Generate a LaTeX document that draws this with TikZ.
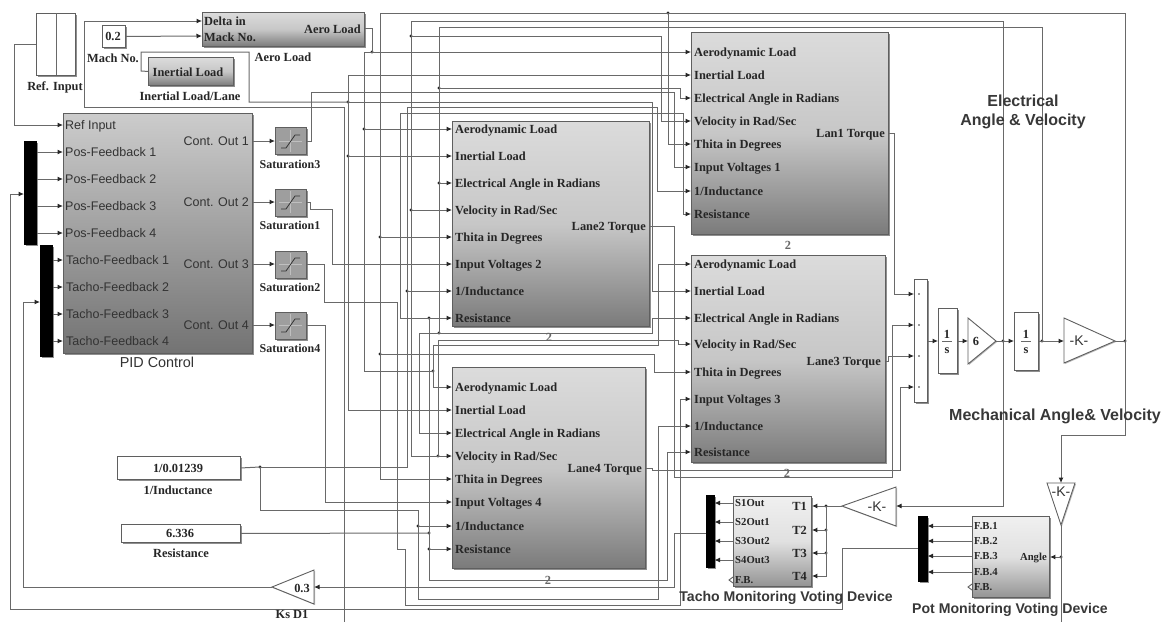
\documentclass[tikz,border=0pt]{standalone}
\usepackage{fontspec}
\setmainfont{Liberation Serif}
\setsansfont{Liberation Sans}
\usetikzlibrary{arrows.meta,shadows}
\definecolor{wirec}{RGB}{105,105,105}
\definecolor{edgec}{RGB}{95,95,95}
\tikzset{
  wire/.style={draw=wirec,line width=1pt},
  arr/.style={wire,-{Latex[length=5.5pt,width=5pt,black!85]}},
  shade1/.style={drop shadow={shadow xshift=1.6pt,shadow yshift=-1.6pt,fill=black!55,opacity=.8}},
  lanebox/.style={draw=edgec,line width=.9pt,top color=black!14,bottom color=black!52,middle color=black!22,shade1},
  pidbox/.style={draw=edgec,line width=.9pt,top color=black!20,bottom color=black!55,shade1},
  lightbox/.style={draw=edgec,line width=.9pt,top color=black!6,bottom color=black!42,middle color=black!12,shade1},
  whitebox/.style={draw=edgec,line width=.9pt,fill=white,shade1},
  satbox/.style={draw=edgec,line width=.9pt,fill=black!38,shade1},
  barbox/.style={draw=black,fill=black,line width=.5pt,shade1},
  tri/.style={draw=edgec,line width=.9pt,fill=white,line join=miter,drop shadow={shadow xshift=1pt,shadow yshift=-1pt,fill=black!40,opacity=.7}},
  openmark/.style={draw=edgec,line width=.9pt},
  serb/.style={font=\fontsize{12.4}{14}\selectfont\bfseries,text=black!85,inner sep=0pt,text height=10.5pt,text depth=2.5pt},
  sers/.style={font=\fontsize{12}{14}\selectfont\bfseries,text=black!85,inner sep=0pt,text height=10.5pt,text depth=2.5pt},
  serc/.style={font=\fontsize{10.7}{13}\selectfont\bfseries,text=black!85,inner sep=0pt,text height=9.5pt,text depth=2.5pt},
  sanr/.style={font=\fontsize{12.5}{14}\selectfont\sffamily,text=black!80,inner sep=0pt,text height=11.5pt,text depth=2.5pt},
  sanb/.style={font=\fontsize{14.1}{17}\selectfont\sffamily\bfseries,text=black!78,inner sep=0pt,align=center},
  sanbig/.style={font=\fontsize{16}{19}\selectfont\sffamily\bfseries,text=black!78,inner sep=0pt,align=center},
  gaintxt/.style={font=\fontsize{14}{16}\selectfont\sffamily,text=black!80,inner sep=0pt},
}
\newcommand{\blk}[6]{\node[#6,anchor=north west,inner sep=0pt,minimum width={(#4-#2)*1pt},minimum height={(#5-#3)*1pt}] (#1) at (#2,#3) {};}
\newcommand{\jn}[3]{\coordinate (#1) at (#2,#3); \fill[black!85] (#1) circle (1.6);}
\begin{document}
\begin{tikzpicture}[x=1pt,y=-1pt]
\useasboundingbox[fill=white] (0,0) rectangle (1166,622);
% ---------- blocks
\blk{refin}{36}{13}{75}{75}{whitebox}
\draw[wire] (56,13) -- (56,75);
\blk{mach}{102}{25}{125}{47}{whitebox}
\blk{aero}{202}{12}{364}{46}{lanebox}
\blk{inert}{148}{57}{233}{85}{lanebox}
\blk{pid}{63}{113}{252}{353}{pidbox}
\blk{muxa}{24}{141}{36}{244}{barbox}
\blk{muxb}{40}{245}{52}{356}{barbox}
\blk{sata}{275}{127}{306}{154}{satbox}
\blk{satb}{275}{189}{306}{216}{satbox}
\blk{satc}{275}{251}{306}{278}{satbox}
\blk{satd}{275}{312}{306}{339}{satbox}
\foreach \cy in {141,202,264,325}{
  \draw[black!25,line width=.6pt] (279,\cy) -- (302,\cy) (290,\cy-11) -- (290,\cy+11);
  \draw[black!80,line width=.8pt] (281,\cy+7) -- (286,\cy+7) -- (295,\cy-6) -- (300,\cy-6);
}
\blk{lanea}{691}{32}{888}{234}{lanebox}
\blk{laneb}{452}{121}{649}{326}{lanebox}
\blk{lanec}{691}{255}{885}{462}{lanebox}
\blk{laned}{452}{367}{645}{568}{lanebox}
\blk{inda}{117}{456}{240}{479}{whitebox}
\blk{resa}{121}{524}{240}{542}{whitebox}
\blk{summ}{914}{279}{927}{402}{whitebox}
\foreach \y in {294,325,356,387} \fill[black!80] (919,\y) circle (.8);
\blk{intg}{938}{308}{957}{373}{whitebox}
\blk{inth}{1014}{312}{1038}{370}{whitebox}
\blk{tacho}{733}{496}{811}{586}{lightbox}
\blk{pot}{972}{516}{1049}{597}{lightbox}
\blk{muxt}{706}{495}{714}{567}{barbox}
\blk{muxp}{918}{516}{927}{581}{barbox}
% triangles
\draw[tri] (968,318) -- (996,341) -- (968,364) -- cycle;
\draw[tri] (1064,318) -- (1115,341) -- (1064,363) -- cycle;
\draw[tri] (314,570) -- (272,587) -- (314,604) -- cycle;
\draw[tri] (896,487) -- (842,506) -- (896,526) -- cycle;
\draw[tri] (1047,483) -- (1075,483) -- (1061,525) -- cycle;
\draw[openmark] (733,577) -- (729,580) -- (733,583);
\draw[openmark] (972,584) -- (968,587) -- (972,590);
% ---------- ports and free ends
\foreach \i/\y in {1/52,2/75,3/98,4/121,5/144,6/167,7/191,8/214} \coordinate (Ap\i) at (691,\y);
\foreach \i/\y in {1/129,2/156,3/183,4/210,5/237,6/264,7/291,8/318} \coordinate (Bp\i) at (452,\y);
\foreach \i/\y in {1/264,2/291,3/318,4/344,5/372,6/399,7/426,8/452} \coordinate (Cp\i) at (691,\y);
\foreach \i/\y in {1/387,2/410,3/433,4/456,5/479,6/502,7/526,8/549} \coordinate (Dp\i) at (452,\y);
\coordinate (endd) at (344,622);
\coordinate (endp) at (1061,622);
\coordinate (gaink) at (1115,341);
\coordinate (gainsix) at (996,341);
\coordinate (gsixin) at (968,341);
\coordinate (gkin) at (1064,341);
\coordinate (gtin) at (896,506);
\coordinate (gtout) at (842,506);
\coordinate (gdin) at (1061,483);
\coordinate (gdout) at (1061,525);
\coordinate (gzin) at (314,587);
\coordinate (gzout) at (272,587);
% ---------- junctions
\jn{jaero}{372}{52}
\jn{jaerob}{364}{129}
\jn{jaerod}{433}{371}
\jn{jin}{348}{102}
\jn{jinb}{348}{156}
\jn{jtop}{668}{13}
\jn{jthb}{380}{237}
\jn{jthc}{380}{354}
\jn{jvela}{411}{36}
\jn{jvelb}{411}{210}
\jn{jveld}{438}{456}
\jn{jela}{439}{88}
\jn{jelb}{439}{183}
\jn{jeld}{439}{333}
\jn{jindo}{260}{467}
\jn{jindb}{407}{291}
\jn{jindd}{418}{526}
\jn{jres}{429}{533}
\jn{jresb}{429}{318}
\jn{jresd}{429}{549}
\jn{jk}{1125}{341}
\jn{jsix}{1003}{341}
\jn{jint}{1042}{341}
\jn{jtt}{826}{506}
\jn{jtb}{826}{530}
\jn{jtc}{826}{553}
\jn{jang}{1061}{557}
% ---------- wires left part
\draw[arr] (refin.west |- 0,44) -- (14,44) -- (14,125) -- (pid.west |- 0,125);
\draw[arr] (mach.east) -- (aero.west |- 0,36);
\draw[arr] (endd) -- (344,107) -- (84,107) -- (84,21) -- (aero.west |- 0,21);
\draw[wire] (aero.east |- 0,28) -- (372,28) -- (jaero);
\foreach \y in {152,179,206,233} \draw[arr] (muxa.east |- 0,\y) -- (pid.west |- 0,\y);
\foreach \y in {260,287,314,341} \draw[arr] (muxb.east |- 0,\y) -- (pid.west |- 0,\y);
\draw[arr] (pid.east |- 0,141) -- (sata.west |- 0,141);
\draw[arr] (pid.east |- 0,202) -- (satb.west |- 0,202);
\draw[arr] (pid.east |- 0,264) -- (satc.west |- 0,264);
\draw[arr] (pid.east |- 0,325) -- (satd.west |- 0,325);
\draw[arr] (sata.east |- 0,141) -- (311,141) -- (311,92) -- (674,92) -- (674,167) -- (Ap6);
\draw[arr] (satb.east |- 0,202) -- (310,202) -- (310,209) -- (332,209) -- (332,264) -- (Bp6);
\draw[arr] (satc.east |- 0,264) -- (324,264) -- (324,302) -- (397,302) -- (397,549) -- (405,549) -- (405,605) -- (680,605) -- (680,399) -- (Cp6);
\draw[arr] (satd.east |- 0,325) -- (325,325) -- (325,502) -- (Dp6);
% aero
\draw[arr] (jaero) -- (Ap1);
\draw[wire] (jaero) -- (364,52) -- (364,371) -- (jaerod);
\draw[arr] (jaerob) -- (Bp1);
\draw[arr] (jaerod) -- (433,387) -- (Dp1);
\draw[arr] (jaerod) -- (433,345) -- (658,345) -- (658,264) -- (Cp1);
% inertial
\draw[wire] (inert.west) -- (141,71) -- (141,52) -- (249,52) -- (249,102) -- (jin);
\draw[arr] (jin) -- (652,102) -- (652,291) -- (Cp2);
\draw[arr] (jin) -- (348,75) -- (Ap2);
\draw[arr] (jinb) -- (Bp2);
\draw[arr] (jin) -- (348,410) -- (Dp2);
% thita bus
\draw[arr] (jk) -- (1125,13) -- (380,13) -- (380,479) -- (Dp5);
\draw[arr] (jtop) -- (668,144) -- (Ap5);
\draw[arr] (jthb) -- (Bp5);
\draw[arr] (jthc) -- (654,354) -- (654,372) -- (Cp5);
% velocity bus
\draw[arr] (jsix) -- (1003,21) -- (411,21) -- (411,456) -- (Dp4);
\draw[arr] (jvela) -- (661,36) -- (661,121) -- (Ap4);
\draw[arr] (jvelb) -- (Bp4);
\draw[arr] (jveld) -- (438,340) -- (678,340) -- (678,344) -- (Cp4);
% electrical bus
\draw[wire] (jint) -- (1042,27) -- (439,27) -- (jeld);
\draw[arr] (jela) -- (680,88) -- (680,98) -- (Ap3);
\draw[arr] (jelb) -- (Bp3);
\draw[arr] (jeld) -- (419,333) -- (419,433) -- (Dp3);
\draw[arr] (jeld) -- (652,333) -- (652,318) -- (Cp3);
% inductance
\draw[wire] (inda.east) -- (jindo);
\draw[arr] (jindo) -- (407,467) -- (407,107) -- (657,107) -- (657,191) -- (Ap7);
\draw[arr] (jindb) -- (Bp7);
\draw[arr] (jindo) -- (260,510) -- (418,510) -- (418,599) -- (658,599) -- (658,426) -- (Cp7);
\draw[arr] (jindd) -- (Dp7);
% resistance
\draw[wire] (resa.east) -- (jres);
\draw[wire] (jresb) -- (jres);
\draw[arr] (jres) -- (429,580) -- (667,580) -- (667,452) -- (Cp8);
\draw[arr] (jresd) -- (Dp8);
\draw[arr] (jresb) -- (400,318) -- (400,113) -- (683,113) -- (683,214) -- (Ap8);
\draw[arr] (jresb) -- (Bp8);
% torques
\draw[arr] (lanea.east |- 0,133) -- (894,133) -- (894,294) -- (summ.west |- 0,294);
\draw[arr] (laneb.east |- 0,226) -- (674,226) -- (674,477) -- (892,477) -- (892,325) -- (summ.west |- 0,325);
\draw[arr] (lanec.east |- 0,361) -- (888,361) -- (888,356) -- (summ.west |- 0,356);
\draw[arr] (laned.east |- 0,468) -- (652,468) -- (652,470) -- (900,470) -- (900,387) -- (summ.west |- 0,387);
% forward path
\draw[arr] (summ.east |- 0,341) -- (intg.west |- 0,341);
\draw[arr] (intg.east |- 0,341) -- (gsixin);
\draw[arr] (gainsix) -- (inth.west |- 0,341);
\draw[arr] (inth.east |- 0,341) -- (gkin);
\draw[wire] (gaink) -- (jk);
\draw[arr] (jk) -- (1125,435) -- (1061,435) -- (gdin);
\draw[wire] (gdout) -- (endp);
\draw[arr] (jang) -- (pot.east |- 0,557);
\draw[arr] (jsix) -- (1003,506) -- (gtin);
\draw[arr] (gtout) -- (tacho.east |- 0,506);
\draw[arr] (jtt) -- (826,576) -- (tacho.east |- 0,576);
\draw[arr] (jtb) -- (tacho.east |- 0,530);
\draw[arr] (jtc) -- (tacho.east |- 0,553);
\foreach \y in {503,522,541,560} \draw[arr] (tacho.west |- 0,\y) -- (muxt.east |- 0,\y);
\foreach \y in {526,541,556,572} \draw[arr] (pot.west |- 0,\y) -- (muxp.east |- 0,\y);
\draw[arr] (muxt.west |- 0,533) -- (674,533) -- (674,587) -- (gzin);
\draw[arr] (gzout) -- (23,587) -- (23,302) -- (muxb.west |- 0,302);
\draw[arr] (muxp.west |- 0,548) -- (842,548) -- (842,609) -- (10,609) -- (10,194) -- (muxa.west |- 0,194);
% ---------- port text
\foreach \blkx/\nm/\v/\lst in {694/A/1/{52,75,98,121,144,167,191,214},455/B/2/{129,156,183,210,237,264,291,318},694/C/3/{264,291,318,344,372,399,426,452},455/D/4/{387,410,433,456,479,502,526,549}}{
  \foreach \y [count=\k] in \lst {
    \ifcase\k\or
      \node[serb,anchor=west] (\nm t\k) at (\blkx,\y) {Aerodynamic Load};
    \or \node[serb,anchor=west] (\nm t\k) at (\blkx,\y) {Inertial Load};
    \or \node[serb,anchor=west] (\nm t\k) at (\blkx,\y) {Electrical Angle in Radians};
    \or \node[serb,anchor=west] (\nm t\k) at (\blkx,\y) {Velocity in Rad/Sec};
    \or \node[serb,anchor=west] (\nm t\k) at (\blkx,\y) {Thita in Degrees};
    \or \node[serb,anchor=west] (\nm t\k) at (\blkx,\y) {Input Voltages \v};
    \or \node[serb,anchor=west] (\nm t\k) at (\blkx,\y) {1/Inductance};
    \or \node[serb,anchor=west] (\nm t\k) at (\blkx,\y) {Resistance};
    \fi
  }
}
\node[serb,anchor=east] (ta) at (885,133) {Lan1 Torque};
\node[serb,anchor=east] (tb) at (646,226) {Lane2 Torque};
\node[serb,anchor=east] (tc) at (881,361) {Lane3 Torque};
\node[serb,anchor=east] (td) at (642,468) {Lane4 Torque};
\node[serb,text=black!60] (na) at (788,245) {2};
\node[serb,text=black!60] (nb) at (549,337) {2};
\node[serb,text=black!60] (nc) at (787,473) {2};
\node[serb,text=black!60] (nd) at (548,580) {2};
\node[serb] (tmach) at (113,36) {0.2};
\node[serb] (lmach) at (113,58) {Mach No.};
\node[serb] (lref) at (55,86) {Ref. Input};
\node[serb,anchor=west] (tdelta) at (204,21) {Delta in};
\node[serb,anchor=west] (tmack) at (204,37) {Mack No.};
\node[serb,anchor=east] (taero) at (361,29) {Aero Load};
\node[serb] (laero) at (283,57) {Aero Load};
\node[serb] (tinert) at (188,72) {Inertial Load};
\node[serb] (linert) at (190,96) {Inertial Load/Lane};
\node[sanr,anchor=west] (pp0) at (65,125) {Ref Input};
\node[sanr,anchor=west] (pp1) at (65,152) {Pos-Feedback 1};
\node[sanr,anchor=west] (pp2) at (65,179) {Pos-Feedback 2};
\node[sanr,anchor=west] (pp3) at (65,206) {Pos-Feedback 3};
\node[sanr,anchor=west] (pp4) at (65,233) {Pos-Feedback 4};
\node[sanr,anchor=west] (pt1) at (66,260) {Tacho-Feedback 1};
\node[sanr,anchor=west] (pt2) at (66,287) {Tacho-Feedback 2};
\node[sanr,anchor=west] (pt3) at (66,314) {Tacho-Feedback 3};
\node[sanr,anchor=west] (pt4) at (66,341) {Tacho-Feedback 4};
\node[sanr,anchor=east] (co1) at (249,141) {Cont. Out 1};
\node[sanr,anchor=east] (co2) at (249,202) {Cont. Out 2};
\node[sanr,anchor=east] (co3) at (249,264) {Cont. Out 3};
\node[sanr,anchor=east] (co4) at (249,325) {Cont. Out 4};
\node[sanr,font=\fontsize{14.4}{16}\selectfont\sffamily] (lpid) at (157,363) {PID Control};
\node[sers] (ls3) at (290,164) {Saturation3};
\node[sers] (ls1) at (290,225) {Saturation1};
\node[sers] (ls2) at (290,287) {Saturation2};
\node[sers] (ls4) at (290,348) {Saturation4};
\node[serb] (tind) at (178,468) {1/0.01239};
\node[serb] (lind) at (178,490) {1/Inductance};
\node[serb] (tres) at (180,533) {6.336};
\node[serb] (lres) at (181,553) {Resistance};
\node[serb] (tz) at (302,588) {0.3};
\node[serb] (lz) at (292,614) {Ks D1};
\node[serc,anchor=west] (s1) at (735,503) {S1Out};
\node[serc,anchor=west] (s2) at (735,522) {S2Out1};
\node[serc,anchor=west] (s3) at (735,541) {S3Out2};
\node[serc,anchor=west] (s4) at (735,560) {S4Out3};
\node[serc,anchor=west] (sf) at (735,580) {F.B.};
\node[serb,anchor=east] (t1) at (807,506) {T1};
\node[serb,anchor=east] (t2) at (807,530) {T2};
\node[serb,anchor=east] (t3) at (807,553) {T3};
\node[serb,anchor=east] (t4) at (807,576) {T4};
\node[serc,anchor=west] (f1) at (974,526) {F.B.1};
\node[serc,anchor=west] (f2) at (974,541) {F.B.2};
\node[serc,anchor=west] (f3) at (974,556) {F.B.3};
\node[serc,anchor=west] (f4) at (974,572) {F.B.4};
\node[serc,anchor=west] (ff) at (974,587) {F.B.};
\node[serc,anchor=east] (fa) at (1047,557) {Angle};
\node[serb] (sa) at (947,334) {1};
\draw[wirec,line width=.8pt] (942,341) -- (952,341);
\node[serb] (sb) at (947,349) {s};
\node[serb] (sc) at (1026,334) {1};
\draw[wirec,line width=.8pt] (1021,341) -- (1031,341);
\node[serb] (sd) at (1026,349) {s};
\node[serb] (tsix) at (976,341) {6};
\node[gaintxt] (tka) at (1079,341) {-K-};
\node[gaintxt] (tkb) at (877,507) {-K-};
\node[gaintxt] (tkc) at (1061,492) {-K-};
\node[sanbig] (lelec) at (1023,112) {Electrical\\Angle \& Velocity};
\node[sanbig] (lmech) at (1055,416) {Mechanical Angle\& Velocity};
\node[sanb] (ltacho) at (786,598) {Tacho Monitoring Voting Device};
\node[sanb] (lpot) at (1010,610) {Pot Monitoring Voting Device};
\end{tikzpicture}
\end{document}
